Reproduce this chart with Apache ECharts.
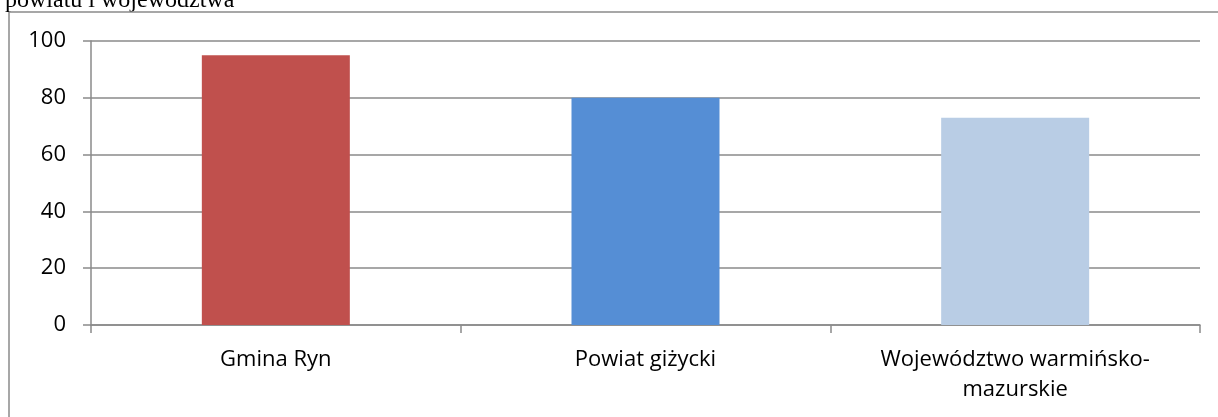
<!DOCTYPE html>
<html>
<head>
<meta charset="utf-8">
<script src="https://cdn.jsdelivr.net/npm/echarts@6/dist/echarts.min.js"></script>
<style>
html,body{margin:0;padding:0;background:#fff;}
#chart{width:1218px;height:417px;}
</style>
</head>
<body>
<div id="chart"></div>
<script>
const categories = ['Gmina Ryn', 'Powiat giżycki', 'Województwo warmińsko-\nmazurskie'];
const values = [95, 80, 73];
const barColors = ['#C0504D', '#558ED5', '#B9CDE5'];
const titleText = 'powiatu i województwa';

const chart = echarts.init(document.getElementById('chart'), null, {renderer: 'canvas'});
const axisGray = '#8a8a8a';
chart.setOption({
  animation: false,
  graphic: [
    {type: 'line', shape: {x1: 9, y1: 12, x2: 1218, y2: 12}, style: {stroke: axisGray, lineWidth: 1.5}, z: 10},
    {type: 'line', shape: {x1: 9, y1: 12, x2: 9, y2: 417}, style: {stroke: axisGray, lineWidth: 1.5}, z: 10},
    {type: 'text', x: 5, y: -11, style: {text: titleText, fontFamily: '"Liberation Serif", "DejaVu Serif", serif', fontSize: 24, fill: '#000'}, z: 5}
  ],
  grid: {left: 91, right: 18, top: 41, bottom: 92, containLabel: false},
  xAxis: {
    type: 'category',
    data: categories,
    axisLine: {show: true, lineStyle: {color: axisGray, width: 1.5}},
    axisTick: {show: true, alignWithLabel: false, length: 8, lineStyle: {color: axisGray, width: 1.5}},
    axisLabel: {
      interval: 0,
      margin: 20,
      color: '#000',
      fontFamily: '"Open Sans", sans-serif',
      fontSize: 22,
      lineHeight: 30,
      align: 'center'
    },
    splitLine: {show: false}
  },
  yAxis: {
    type: 'value',
    min: 0,
    max: 100,
    interval: 20,
    axisLine: {show: true, lineStyle: {color: axisGray, width: 1.5}},
    axisTick: {show: true, length: 8, lineStyle: {color: axisGray, width: 1.5}},
    axisLabel: {margin: 25, color: '#000', fontFamily: '"Open Sans", sans-serif', fontSize: 22},
    splitLine: {show: true, lineStyle: {color: axisGray, width: 1.5}}
  },
  series: [{
    type: 'bar',
    data: values.map((v, i) => ({value: v, itemStyle: {color: barColors[i]}})),
    barWidth: 148
  }]
});
</script>
</body>
</html>
